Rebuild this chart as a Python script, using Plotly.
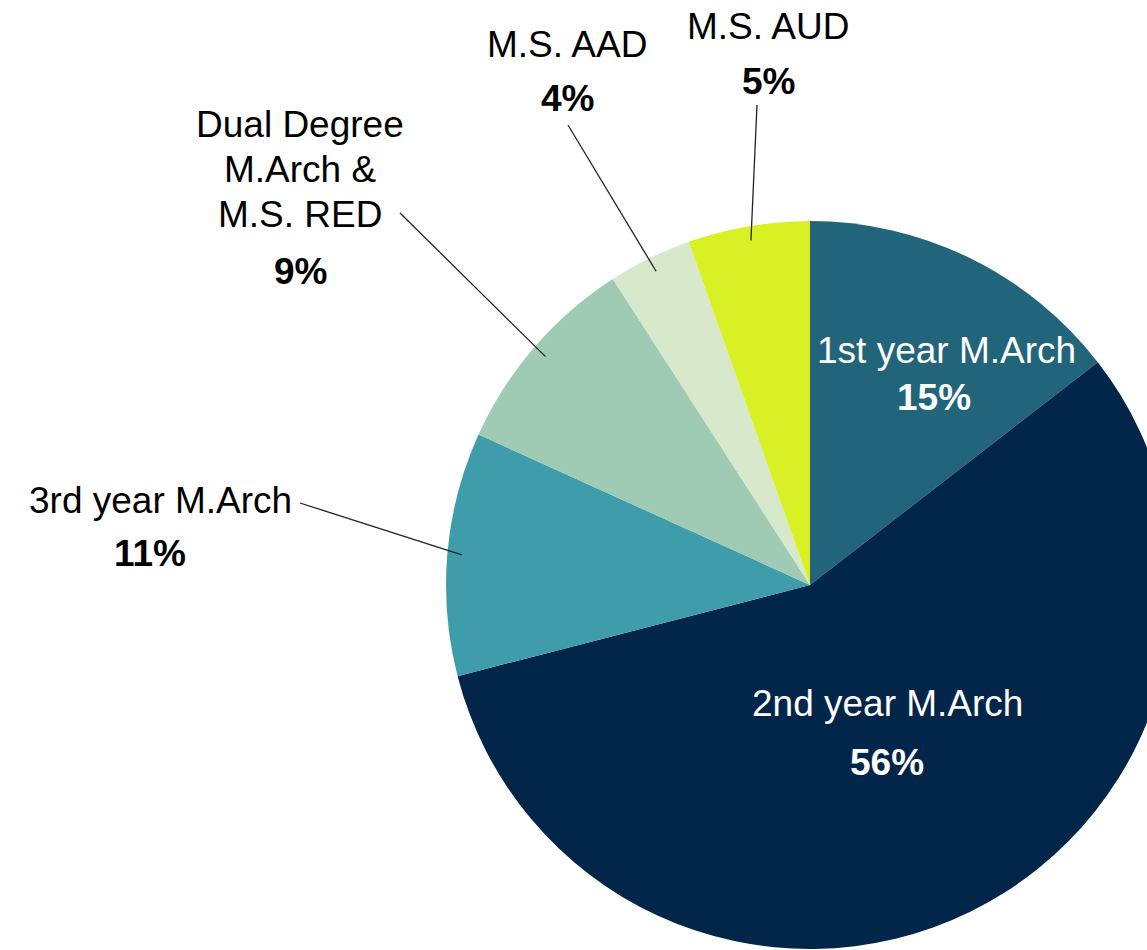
import math
import plotly.graph_objects as go

# ---- data ----
categories = ["1st year M.Arch", "2nd year M.Arch", "3rd year M.Arch",
              "Dual Degree<br>M.Arch &<br>M.S. RED", "M.S. AAD", "M.S. AUD"]
shares = [14.5, 56.4, 10.8, 9.1, 3.7, 5.4]
colors = ["#22657A", "#02264A", "#3F9CAA", "#9FCAB4", "#D8E8CA", "#D9F024"]

# ---- layout geometry (pixels of a 1200x1000 canvas) ----
W, H = 1200, 1000
CX, CY, R = 810, 585, 364
LINE_GAP = 45

# label placement: (label x, first-line y, pct x, pct y, text color, leader start or None)
placement = [
    (946, 350, 934, 397, "white", None),
    (887, 703, 887, 762, "white", None),
    (160, 500, 150, 553, "black", (300, 503)),
    (300, 124, 300, 271, "black", (400, 213)),
    (567, 44, 567, 98, "black", (568, 125)),
    (768, 26, 768, 81, "black", (757, 105)),
]

total = sum(shares)
pcts = [f"{round(v / total * 100)}%" for v in shares]

fig = go.Figure()
fig.add_trace(go.Pie(
    labels=categories, values=shares, sort=False, direction="clockwise",
    rotation=0, marker=dict(colors=colors, line=dict(width=0)),
    textinfo="none", hoverinfo="label+percent", showlegend=False,
    domain=dict(x=[(CX - R) / W, (CX + R) / W], y=[1 - (CY + R) / H, 1 - (CY - R) / H]),
))

FONT = "Liberation Sans, Arial, sans-serif"
SIZE = 37
annotations = []
shapes = []
cum = 0.0
for v, lab, pct, (lx, ly, px, py, col, start) in zip(shares, categories, pcts, placement):
    mid = (cum + v / 2) / total * 2 * math.pi
    cum += v
    for i, part in enumerate(lab.split("<br>")):
        annotations.append(dict(x=lx, y=ly + i * LINE_GAP, xref="x", yref="y", text=part,
                                showarrow=False, font=dict(family=FONT, size=SIZE, color=col),
                                xanchor="center", yanchor="middle"))
    annotations.append(dict(x=px, y=py, xref="x", yref="y", text=f"<b>{pct}</b>", showarrow=False,
                            font=dict(family=FONT, size=SIZE, color=col),
                            xanchor="center", yanchor="middle"))
    if start is not None:
        tx = CX + 0.96 * R * math.sin(mid)
        ty = CY - 0.96 * R * math.cos(mid)
        shapes.append(dict(type="line", xref="x", yref="y", x0=start[0], y0=start[1],
                           x1=tx, y1=ty, line=dict(color="#222222", width=1.3), layer="above"))

fig.update_layout(
    width=W, height=H, margin=dict(l=0, r=0, t=0, b=0),
    paper_bgcolor="white", plot_bgcolor="rgba(0,0,0,0)",
    xaxis=dict(range=[0, W], visible=False, fixedrange=True),
    yaxis=dict(range=[H, 0], visible=False, fixedrange=True),
    annotations=annotations, shapes=shapes,
)

fig.write_html("out.html", config={"displayModeBar": False},
               post_script="document.body.style.margin='0';document.body.style.overflow='hidden';")
